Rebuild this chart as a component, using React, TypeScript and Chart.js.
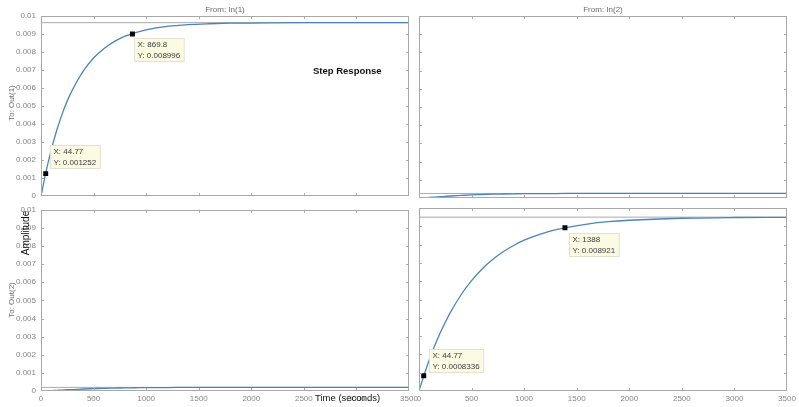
import React, { useEffect, useRef } from "react";
import { Chart, registerables } from "chart.js";

Chart.register(...registerables);

// ---- data ----
const timeS = [0, 50, 100, 150, 200, 250, 300, 400, 500, 600, 700, 800, 900, 1000, 1200, 1400, 1600, 1800, 2000, 2500, 3000, 3500];
const out1FromIn1 = [0, 0.00142, 0.00263, 0.00366, 0.00454, 0.00529, 0.00592, 0.00693, 0.00767, 0.0082, 0.00859, 0.00888, 0.00908, 0.00923, 0.00942, 0.00952, 0.00957, 0.0096, 0.00961, 0.00963, 0.00963, 0.00963];
const out1FromIn2 = [0, 0.00001, 0.00003, 0.00005, 0.00007, 0.00009, 0.00011, 0.00014, 0.00017, 0.00019, 0.00021, 0.00022, 0.00023, 0.00024, 0.00024, 0.00025, 0.00025, 0.00025, 0.00025, 0.00025, 0.00025, 0.00025];
const out2FromIn1 = [0, 0.00001, 0.00002, 0.00004, 0.00005, 0.00007, 0.00008, 0.00011, 0.00013, 0.00015, 0.00016, 0.00017, 0.00018, 0.00019, 0.00019, 0.0002, 0.0002, 0.0002, 0.0002, 0.0002, 0.0002, 0.0002];
const out2FromIn2 = [0, 0.00091, 0.00174, 0.00248, 0.00315, 0.00376, 0.00431, 0.00526, 0.00603, 0.00667, 0.00718, 0.00761, 0.00795, 0.00824, 0.00866, 0.00893, 0.00912, 0.00925, 0.00933, 0.00944, 0.00948, 0.00949];
const steadyStates = [0.00963, 0.00025, 0.0002, 0.0095];
const tipsOut1In1 = [
  { x: 44.77, y: 0.001252 },
  { x: 869.8, y: 0.008996 },
];
const tipsOut2In2 = [
  { x: 44.77, y: 0.0008336 },
  { x: 1388, y: 0.008921 },
];
const xMin = 0;
const xMax = 3500;
const xStep = 500;
const yMin = 0;
const yMax = 0.01;
const yStep = 0.001;

const FONT = '"Liberation Sans", Arial, Helvetica, sans-serif';
const LINE = "#4a84bb";
const FRAME = "#a8a8a8";
const TICKTEXT = "#858585";

const framePlugin = {
  id: "matlabFrame",
  afterDatasetsDraw(chart: any) {
    const { ctx, chartArea: a, scales } = chart;
    const xs = scales.x;
    const ys = scales.y;
    ctx.save();
    ctx.strokeStyle = FRAME;
    ctx.lineWidth = 1;
    ctx.strokeRect(Math.round(a.left) + 0.5, Math.round(a.top) + 0.5, Math.round(a.right - a.left) - 1, Math.round(a.bottom - a.top) - 1);
    const tl = 3;
    ctx.beginPath();
    for (const t of xs.ticks) {
      if (t.value <= xMin || t.value >= xMax) continue;
      const px = Math.round(xs.getPixelForValue(t.value)) + 0.5;
      ctx.moveTo(px, a.bottom);
      ctx.lineTo(px, a.bottom - tl);
      ctx.moveTo(px, a.top);
      ctx.lineTo(px, a.top + tl);
    }
    for (const t of ys.ticks) {
      if (t.value <= yMin + 1e-9 || t.value >= yMax - 1e-9) continue;
      const py = Math.round(ys.getPixelForValue(t.value)) + 0.5;
      ctx.moveTo(a.left, py);
      ctx.lineTo(a.left + tl, py);
      ctx.moveTo(a.right, py);
      ctx.lineTo(a.right - tl, py);
    }
    ctx.stroke();

    const opts = chart.options.plugins.matlabFrame || {};
    const tips = opts.tips || [];
    const offs = opts.offsets || [];
    ctx.font = `8px ${FONT}`;
    tips.forEach((tip: any, i: number) => {
      const px = xs.getPixelForValue(tip.x);
      const py = ys.getPixelForValue(tip.y);
      const off = offs[i] || { dx: 4, dy: 4 };
      const lines = [`X: ${tip.x}`, `Y: ${tip.y}`];
      const w = Math.max(...lines.map((l) => ctx.measureText(l).width)) + 7;
      const h = 23;
      const bx = Math.round(px + off.dx) + 0.5;
      const by = Math.round(py + off.dy) + 0.5;
      ctx.fillStyle = "#fbfbe4";
      ctx.fillRect(bx, by, w, h);
      ctx.strokeStyle = "#e2e2cf";
      ctx.strokeRect(bx, by, w, h);
      ctx.fillStyle = "#3a3a3a";
      ctx.textBaseline = "middle";
      ctx.textAlign = "left";
      ctx.fillText(lines[0], bx + 3, by + 6.5);
      ctx.fillText(lines[1], bx + 3, by + 17);
    });
    ctx.restore();
  },
};

type PanelProps = {
  left: number;
  top: number;
  width: number;
  height: number;
  padding: { left: number; right: number; top: number; bottom: number };
  showX: boolean;
  showY: boolean;
  series: number[];
  steady: number;
  tips: { x: number; y: number }[];
  offsets: { dx: number; dy: number }[];
};

function Panel(p: PanelProps) {
  const ref = useRef<HTMLCanvasElement>(null);
  useEffect(() => {
    if (!ref.current) return;
    const xScale: any = {
      type: "linear",
      min: xMin,
      max: xMax,
      display: p.showX,
      grid: { display: false, drawTicks: false },
      border: { display: false },
      ticks: {
        stepSize: xStep,
        autoSkip: false,
        maxRotation: 0,
        padding: 3,
        color: TICKTEXT,
        font: { family: FONT, size: 8 },
        callback: (v: any) => String(Math.round(Number(v))),
      },
    };
    if (p.showX) xScale.afterFit = (s: any) => { s.height = 14; };
    const yScale: any = {
      type: "linear",
      min: yMin,
      max: yMax,
      display: p.showY,
      grid: { display: false, drawTicks: false },
      border: { display: false },
      ticks: {
        stepSize: yStep,
        autoSkip: false,
        padding: 5,
        color: TICKTEXT,
        font: { family: FONT, size: 8 },
        callback: (v: any) => String(+Number(v).toFixed(4)),
      },
    };
    if (p.showY) yScale.afterFit = (s: any) => { s.width = 41; };
    const chart = new Chart(ref.current, {
      type: "line",
      data: {
        datasets: [
          {
            data: p.tips.map((t) => ({ x: t.x, y: t.y })),
            showLine: false,
            pointStyle: "rect",
            pointRadius: 3.5,
            backgroundColor: "#000",
            borderColor: "#000",
            borderWidth: 0,
          },
          {
            data: timeS.map((t, i) => ({ x: t, y: p.series[i] })),
            borderColor: LINE,
            borderWidth: 1.3,
            pointRadius: 0,
            cubicInterpolationMode: "monotone",
            fill: false,
          },
          {
            data: [
              { x: xMin, y: p.steady },
              { x: xMax, y: p.steady },
            ],
            borderColor: "#a9a9a9",
            borderWidth: 1,
            pointRadius: 0,
            fill: false,
          },
        ],
      } as any,
      options: {
        responsive: false,
        animation: false,
        events: [],
        layout: { padding: p.padding },
        plugins: {
          legend: { display: false },
          tooltip: { enabled: false },
          matlabFrame: { tips: p.tips, offsets: p.offsets },
        } as any,
        scales: { x: xScale, y: yScale },
      },
      plugins: [framePlugin],
    });
    return () => chart.destroy();
  }, []);
  return (
    <canvas
      ref={ref}
      width={p.width}
      height={p.height}
      style={{ position: "absolute", left: p.left, top: p.top, width: p.width, height: p.height }}
    />
  );
}

const txt: React.CSSProperties = {
  position: "absolute",
  whiteSpace: "nowrap",
  fontFamily: FONT,
  lineHeight: 1,
};

export default function App() {
  return (
    <div style={{ position: "absolute", left: 0, top: 0, width: 799, height: 407, background: "#fff", overflow: "hidden" }}>
      <Panel
        left={0} top={0} width={422} height={206}
        padding={{ left: 0, right: 13, top: 16, bottom: 8 }}
        showX={false} showY={true}
        series={out1FromIn1} steady={steadyStates[0]}
        tips={tipsOut1In1}
        offsets={[{ dx: 4, dy: -29 }, { dx: 2, dy: 4 }]}
      />
      <Panel
        left={409} top={0} width={390} height={206}
        padding={{ left: 10, right: 12, top: 16, bottom: 8 }}
        showX={false} showY={false}
        series={out1FromIn2} steady={steadyStates[1]}
        tips={[]} offsets={[]}
      />
      <Panel
        left={0} top={200} width={422} height={207}
        padding={{ left: 0, right: 13, top: 8, bottom: 2 }}
        showX={true} showY={true}
        series={out2FromIn1} steady={steadyStates[2]}
        tips={[]} offsets={[]}
      />
      <Panel
        left={409} top={200} width={390} height={207}
        padding={{ left: 10, right: 12, top: 8, bottom: 2 }}
        showX={true} showY={false}
        series={out2FromIn2} steady={steadyStates[3]}
        tips={tipsOut2In2}
        offsets={[{ dx: 5, dy: -27 }, { dx: 4, dy: 5 }]}
      />
      <div style={{ ...txt, left: 225, top: 10, transform: "translate(-50%,-50%)", fontSize: 8, color: "#6a6a6a" }}>From: In(1)</div>
      <div style={{ ...txt, left: 603, top: 10, transform: "translate(-50%,-50%)", fontSize: 8, color: "#6a6a6a" }}>From: In(2)</div>
      <div style={{ ...txt, left: 12, top: 103, transform: "translate(-50%,-50%) rotate(-90deg)", fontSize: 8, color: "#6a6a6a" }}>To: Out(1)</div>
      <div style={{ ...txt, left: 12, top: 300, transform: "translate(-50%,-50%) rotate(-90deg)", fontSize: 8, color: "#6a6a6a" }}>To: Out(2)</div>
      <div style={{ ...txt, left: 26, top: 233, transform: "translate(-50%,-50%) rotate(-90deg)", fontSize: 10, color: "#111" }}>Amplitude</div>
      <div style={{ ...txt, left: 315, top: 398, transform: "translate(0,-50%)", fontSize: 9.5, color: "#111" }}>Time (seconds)</div>
      <div style={{ ...txt, left: 313, top: 71, transform: "translate(0,-50%)", fontSize: 9.5, fontWeight: "bold", color: "#111" }}>Step Response</div>
    </div>
  );
}
